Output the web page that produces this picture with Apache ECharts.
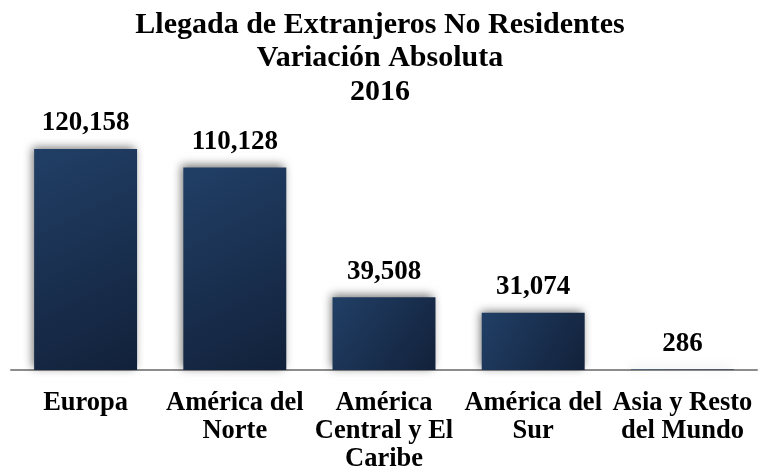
<!DOCTYPE html>
<html><head><meta charset="utf-8">
<script src="https://cdn.jsdelivr.net/npm/echarts@6/dist/echarts.min.js"></script>
<style>html,body{margin:0;padding:0;background:#fff}#c{width:760px;height:475px}</style>
</head><body><div id="c"></div>
<script>
const titleLines = ['Llegada de Extranjeros No Residentes', 'Variación Absoluta', '2016'];
const categories = ['Europa', 'América del\nNorte', 'América\nCentral y El\nCaribe', 'América del\nSur', 'Asia y Resto\ndel Mundo'];
const values = [120158, 110128, 39508, 31074, 286];

const serif = '"Liberation Serif", "Times New Roman", serif';
const chart = echarts.init(document.getElementById('c'), null, {renderer: 'canvas'});
chart.setOption({
  animation: false,
  backgroundColor: '#ffffff',
  title: {
    text: titleLines.join('\n'),
    left: 'center', top: 3,
    textStyle: {fontFamily: serif, fontWeight: 'bold', fontSize: 30, lineHeight: 33.5, color: '#000'}
  },
  grid: {left: 11, right: 3, top: 112.5, bottom: 105, containLabel: false},
  xAxis: {
    type: 'category', data: categories,
    axisLine: {show: true, lineStyle: {color: '#8c8c8c', width: 2}},
    axisTick: {show: false},
    axisLabel: {interval: 0, margin: 19, fontFamily: serif, fontWeight: 'bold', fontSize: 26.5, lineHeight: 28, color: '#000'}
  },
  yAxis: {
    type: 'value', min: 0, max: 140000, show: false, splitLine: {show: false}
  },
  series: [{
    type: 'bar', data: values, barCategoryGap: '31%',
    itemStyle: {
      color: new echarts.graphic.LinearGradient(0, 0, 1, 1, [
        {offset: 0, color: '#213f66'},
        {offset: 1, color: '#12213a'}
      ]),
      shadowColor: 'rgba(0,0,0,0.55)', shadowBlur: 9, shadowOffsetX: -2, shadowOffsetY: -2
    },
    label: {
      show: true, position: 'top', distance: 12,
      fontFamily: serif, fontWeight: 'bold', fontSize: 27, color: '#000',
      formatter: p => p.value.toLocaleString('en-US')
    }
  }]
});
</script></body></html>
